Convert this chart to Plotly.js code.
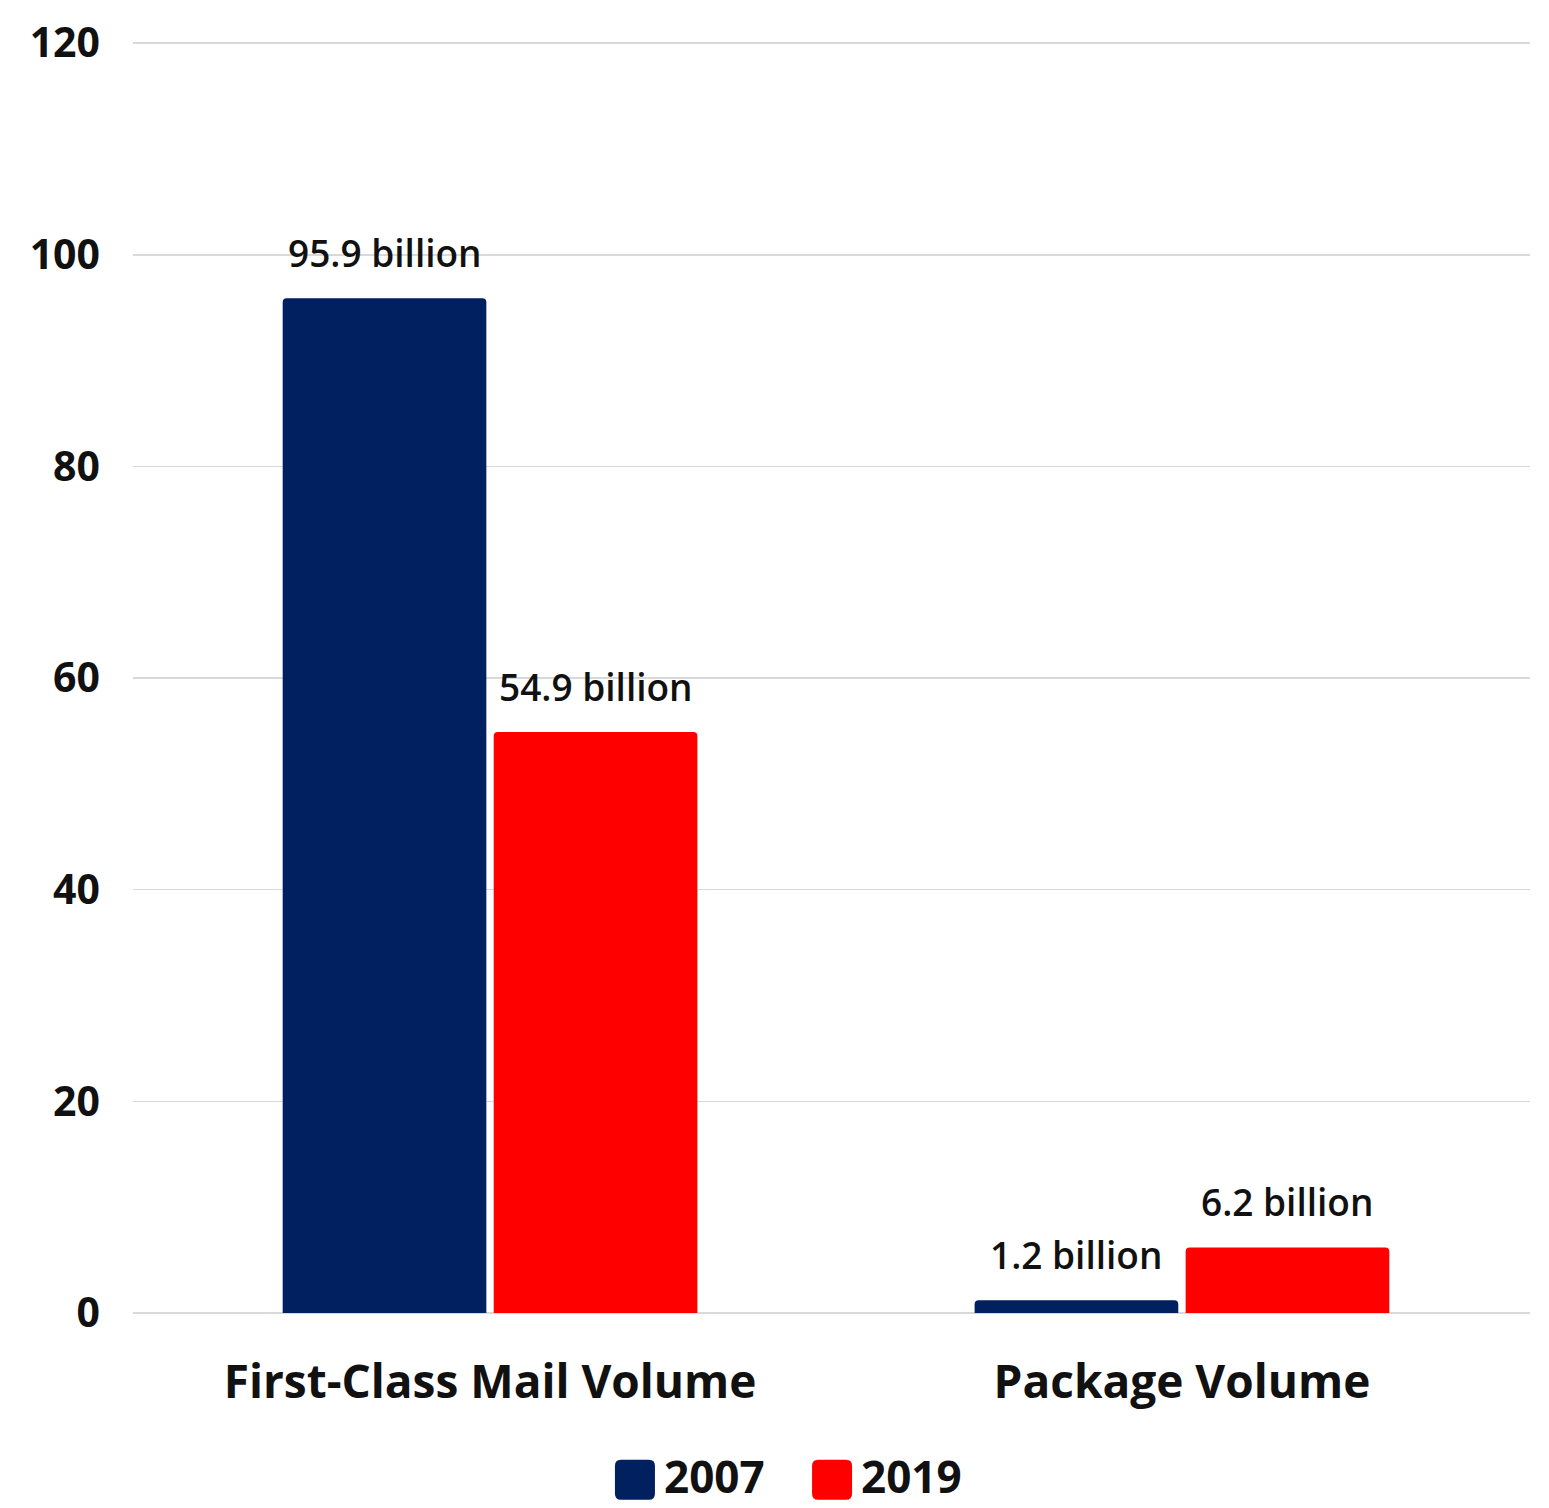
<!DOCTYPE html>
<html>
<head>
<meta charset="utf-8">
<script src="https://cdn.plot.ly/plotly-3.0.1.min.js"></script>
<style>
  html, body { margin: 0; padding: 0; background: #ffffff; }
  #chart { width: 1549px; height: 1508px; }
</style>
</head>
<body>
<div id="chart"></div>
<script>
// ---- Data ----
const categories = ['First-Class Mail Volume', 'Package Volume'];
const seriesNames = ['2007', '2019'];
const values2007 = [95.9, 1.2];
const values2019 = [54.9, 6.2];
const labelSuffix = ' billion';
const yTickValues = [0, 20, 40, 60, 80, 100, 120];

// ---- Styles ----
const colors = ['#002060', '#FF0000'];
const FONT = '"Open Sans", "Noto Sans", sans-serif';
const BARGAP = 0.39;
const BARGROUPGAP = 0.035;

const seriesValues = [values2007, values2019];

const traces = seriesValues.map((vals, i) => ({
  type: 'bar',
  name: seriesNames[i],
  x: categories,
  y: vals,
  marker: { color: colors[i], cornerradius: 4 },
  showlegend: false,
  hoverinfo: 'x+y+name'
}));

// value labels above bars (positioned via axis scales)
const half = (1 - BARGAP) / 4;
const annotations = [];
seriesValues.forEach((vals, s) => {
  vals.forEach((v, c) => {
    annotations.push({
      x: c + (s === 0 ? -half : half),
      y: v,
      xref: 'x', yref: 'y',
      text: v.toFixed(1) + labelSuffix,
      showarrow: false,
      yanchor: 'bottom',
      xanchor: 'center',
      yshift: 18,
      font: { family: FONT, size: 37, color: '#111111', weight: 600 }
    });
  });
});

// custom legend (large rounded swatches)
const legendX = [0.3593, 0.5004];
const legendY = -0.1281;
const shapes = [];
const sq = 'M-20,-14 Q-20,-20 -14,-20 L14,-20 Q20,-20 20,-14 L20,14 Q20,20 14,20 L-14,20 Q-20,20 -20,14 Z';
seriesNames.forEach((n, i) => {
  shapes.push({
    type: 'path',
    xref: 'paper', yref: 'paper',
    xsizemode: 'pixel', ysizemode: 'pixel',
    xanchor: legendX[i], yanchor: legendY - 0.003,
    path: sq,
    fillcolor: colors[i],
    line: { width: 0 }
  });
  annotations.push({
    x: legendX[i], y: legendY,
    xref: 'paper', yref: 'paper',
    xshift: 27,
    text: n,
    showarrow: false,
    xanchor: 'left', yanchor: 'middle',
    font: { family: FONT, size: 44, color: '#111111', weight: 700 }
  });
});

const layout = {
  width: 1549,
  height: 1508,
  paper_bgcolor: '#ffffff',
  plot_bgcolor: '#ffffff',
  margin: { l: 133, r: 19, t: 41, b: 195 },
  barmode: 'group',
  bargap: BARGAP,
  bargroupgap: BARGROUPGAP,
  showlegend: false,
  xaxis: {
    type: 'category',
    range: [-0.516, 1.503],
    showgrid: false,
    showline: false,
    zeroline: false,
    ticks: '',
    ticklabelstandoff: 38,
    tickfont: { family: FONT, size: 46, color: '#111111', weight: 700 },
    fixedrange: true
  },
  yaxis: {
    range: [0, 120.2],
    tickvals: yTickValues,
    ticktext: yTickValues.map(String),
    showgrid: true,
    gridcolor: '#d9d9d9',
    gridwidth: 1.5,
    zeroline: true,
    zerolinecolor: '#d9d9d9',
    zerolinewidth: 1.5,
    showline: false,
    ticks: '',
    ticklabelstandoff: 32,
    tickfont: { family: FONT, size: 41, color: '#111111', weight: 700 },
    fixedrange: true
  },
  annotations: annotations,
  shapes: shapes,
  font: { family: FONT, color: '#111111' }
};

Plotly.newPlot('chart', traces, layout, { displayModeBar: false, staticPlot: true });
</script>
</body>
</html>
